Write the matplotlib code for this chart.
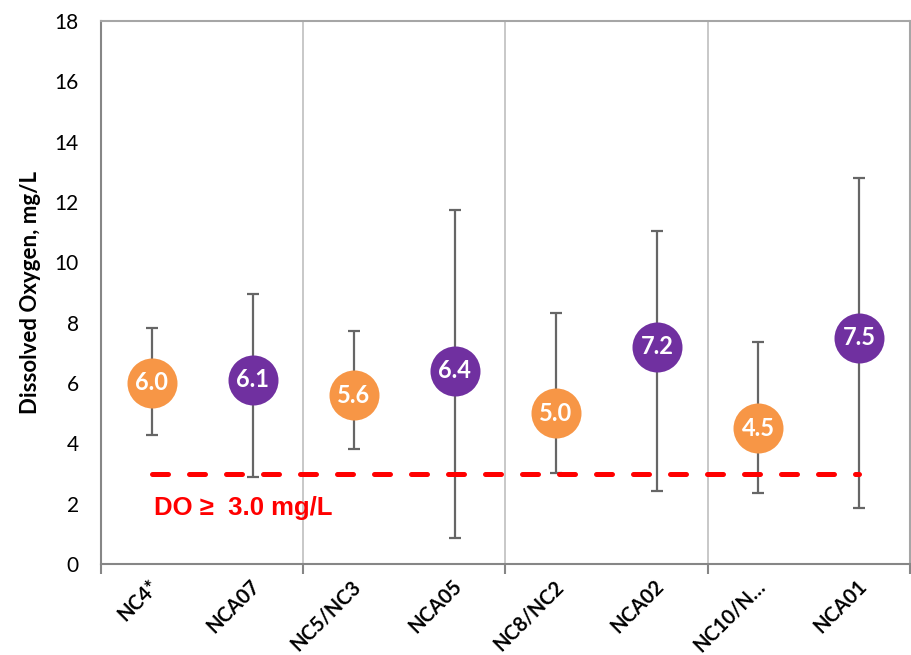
import matplotlib
matplotlib.use("Agg")
import matplotlib.pyplot as plt
import matplotlib.transforms as mtransforms
import numpy as np

sites = ["NC4*", "NCA07", "NC5/NC3", "NCA05", "NC8/NC2", "NCA02", "NC10/N\u2026", "NCA01"]
mean_do = [6.0, 6.1, 5.6, 6.4, 5.0, 7.2, 4.5, 7.5]
max_do = [7.83, 8.95, 7.72, 11.74, 8.33, 11.04, 7.35, 12.81]
min_do = [4.28, 2.89, 3.80, 0.87, 3.02, 2.41, 2.36, 1.87]
site_type = ["orange", "purple", "orange", "purple", "orange", "purple", "orange", "purple"]
do_standard = 3.0
standard_label = "DO \u2265  3.0 mg/L"
y_ticks = [0, 2, 4, 6, 8, 10, 12, 14, 16, 18]

palette = {"orange": "#F79646", "purple": "#7030A0"}
fam = ["Lato", "DejaVu Sans"]

fig = plt.figure(figsize=(9.12, 6.55), dpi=100)
ax = fig.add_axes([101 / 912, 1 - 564 / 655, (910 - 101) / 912, (564 - 21) / 655])

x = np.arange(1, len(sites) + 1)
ax.set_xlim(0.5, len(sites) + 0.5)
ax.set_ylim(0, 18)

# group separators
for b in [2.5, 4.5, 6.5]:
    ax.axvline(b, color="#BFBFBF", lw=1.2, zorder=1)

# min / max range bars
for xi, m, lo, hi in zip(x, mean_do, min_do, max_do):
    ax.errorbar([xi], [m], yerr=[[m - lo], [hi - m]], fmt="none",
                ecolor="#666666", elinewidth=1.6, capsize=4.5, capthick=1.6, zorder=2)

# standard line
ax.plot([x[0], x[-1]], [do_standard, do_standard], color="#FF0000", lw=3.6,
        dashes=(3.2, 4.2), dash_capstyle="round", zorder=3)

# mean markers with value labels
for xi, m, t in zip(x, mean_do, site_type):
    ax.plot([xi], [m], "o", ms=36, color=palette[t], mec="none", zorder=4)
    ax.text(xi, m, f"{m:.1f}", color="white", ha="center", va="center",
            fontsize=17, fontweight="bold", family=fam, zorder=5)

ax.text(x[0] + 0.02, 1.85, standard_label, color="#FF0000", fontsize=18.5,
        fontweight="bold", family=["Liberation Sans", "DejaVu Sans"],
        ha="left", va="center", zorder=5)

# axes styling
for s in ax.spines.values():
    s.set_color("#868686")
    s.set_linewidth(1.5)
ax.spines["top"].set_color("#A6A6A6")
ax.spines["right"].set_color("#A6A6A6")

ax.set_yticks(y_ticks)
ax.set_yticklabels([str(v) for v in y_ticks], family=fam, fontsize=15)
ax.tick_params(axis="y", length=0, pad=16)

ax.set_xticks([0.5, 2.5, 4.5, 6.5, 8.5])
ax.set_xticklabels([])
ax.tick_params(axis="x", which="major", length=7, width=1.5, color="#868686")
ax.set_xticks(x, minor=True)
ax.set_xticklabels(sites, minor=True, rotation=45, ha="right", rotation_mode="anchor",
                   family=fam, fontsize=14.5, fontweight="bold")
ax.tick_params(axis="x", which="minor", length=0, pad=9)
shift = mtransforms.ScaledTranslation(-3 / 100, 0, fig.dpi_scale_trans)
for lbl in ax.get_xticklabels(minor=True):
    lbl.set_transform(lbl.get_transform() + shift)

ax.set_ylabel("Dissolved Oxygen, mg/L", family=fam, fontsize=16, fontweight="bold", labelpad=10)

fig.savefig("out.png", dpi=100)
